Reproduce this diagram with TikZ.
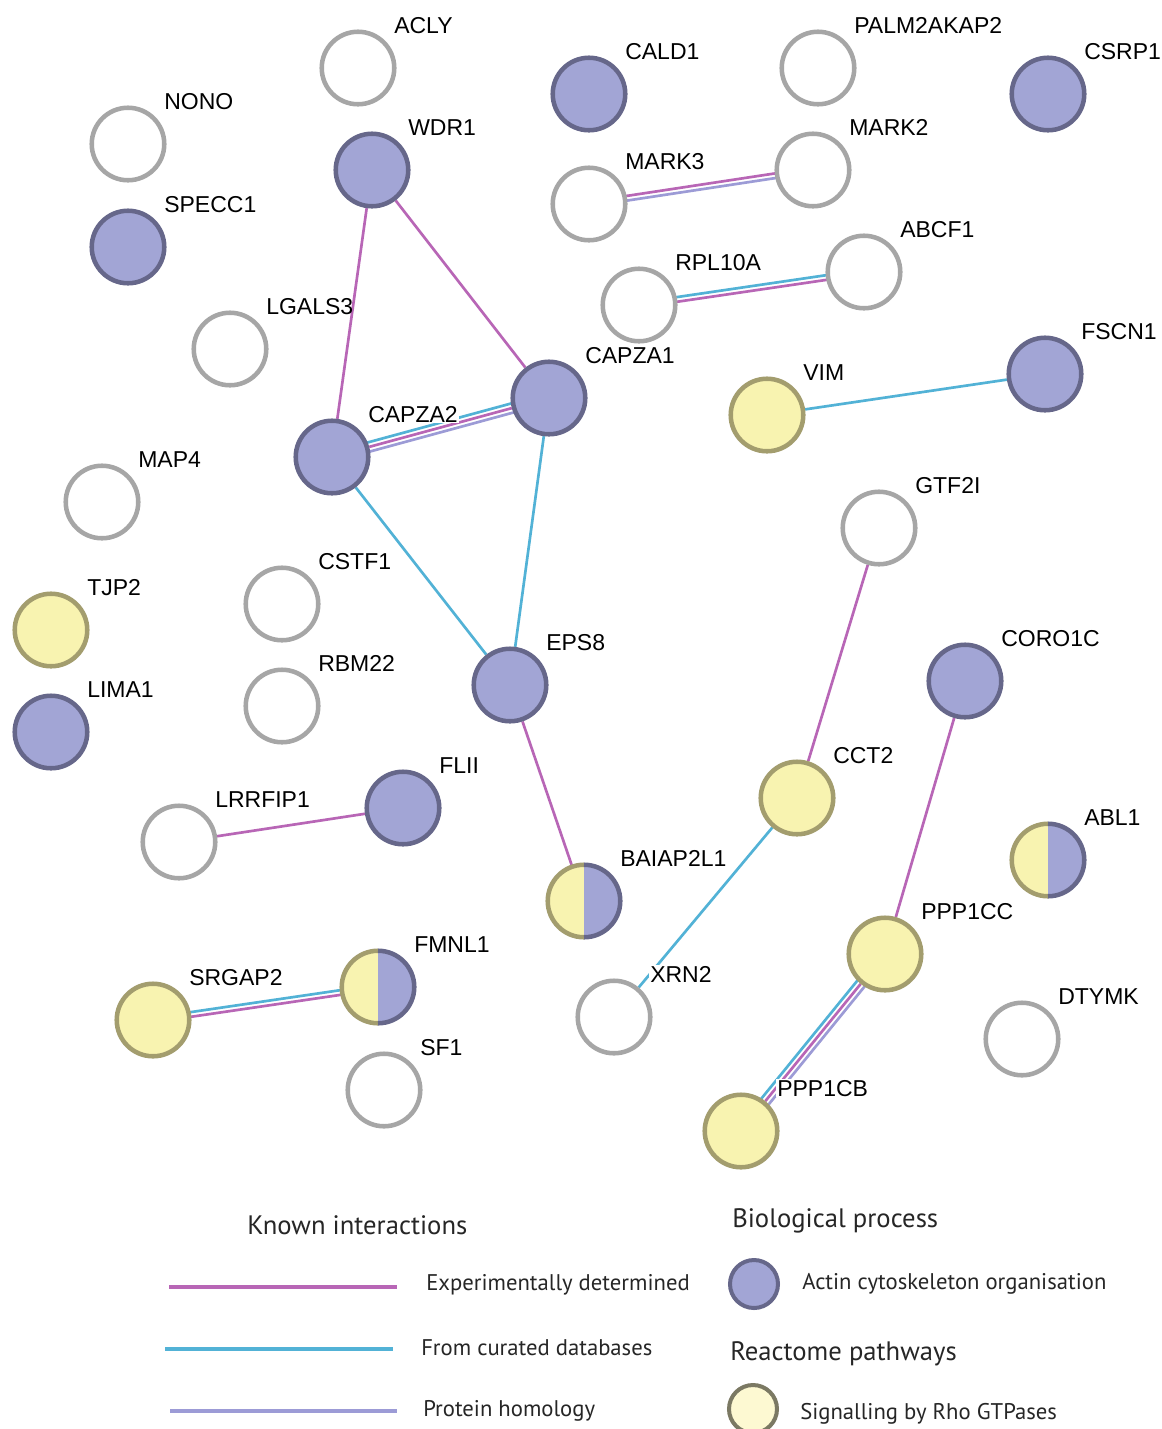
\documentclass[tikz,border=0pt]{standalone}
\usepackage{fontspec}
\usetikzlibrary{calc,backgrounds}
\newfontfamily\labfont{Liberation Sans}
\newfontfamily\legfont{PT Sans}

% interaction colours
\definecolor{expc}{HTML}{B866B6}
\definecolor{dbc}{HTML}{52B2D6}
\definecolor{homc}{HTML}{9C9BD6}
% node colours
\definecolor{bfill}{HTML}{A2A5D5}
\definecolor{bline}{HTML}{66678A}
\definecolor{yfill}{HTML}{F8F3B0}
\definecolor{yline}{HTML}{A39D6E}
\definecolor{wline}{HTML}{A6A6A6}
\definecolor{lyfill}{HTML}{FDF9D2}
\definecolor{lyline}{HTML}{7B7963}

% two parallel strands offset sideways from the centre line
\newcommand\twin[4]{\draw[#1] ($(#2)!#4!90:(#3)$) -- ($(#3)!#4!-90:(#2)$);}

\tikzset{
  gene/.style={circle, minimum size=54.4pt, inner sep=0pt, line width=3.4pt},
  gene-w/.style={gene, draw=wline, fill=white},
  gene-b/.style={gene, draw=bline, fill=bfill},
  gene-y/.style={gene, draw=yline, fill=yfill},
  gene-h/.style={gene, draw=none, outer sep=0pt,
    path picture={
      \fill[yfill] (path picture bounding box.south west) rectangle (path picture bounding box.north);
      \fill[bfill] (path picture bounding box.south) rectangle (path picture bounding box.north east);
    }},
  glabel/.style={anchor=base west, inner sep=0pt, font=\labfont\fontsize{17.25pt}{20pt}\selectfont},
  clearlabel/.style={fill=white, inner sep=0.6pt},
  link/.style={line width=2pt},
  exp/.style={link, expc},
  db/.style={link, dbc},
  hom/.style={link, homc},
  keyline/.style={line width=2.4pt},
  keyhead/.style={anchor=base west, inner sep=0pt, font=\legfont\fontsize{20pt}{24pt}\selectfont, text=black!85},
  keytext/.style={anchor=base west, inner sep=0pt, font=\legfont\fontsize{17pt}{20pt}\selectfont, text=black!85},
  keydot/.style={circle, minimum size=36pt, inner sep=0pt, line width=3pt},
}

\begin{document}
\begin{tikzpicture}[x=0.75pt, y=-0.75pt]
\useasboundingbox (0,0) rectangle (1162,1429);

% proteins
\foreach \n/\x/\y/\t in {
  ACLY/358/68/w, NONO/128/144/w, WDR1/372/170/b, SPECC1/128/247/b,
  CALD1/589/94/b, PALM2AKAP2/818/68/w, CSRP1/1048/94/b, MARK2/813/170/w,
  MARK3/589/204/w, ABCF1/864/272/w, RPL10A/639/305/w, LGALS3/230/349/w,
  CAPZA1/549/398/b, FSCN1/1045/374/b, VIM/767/415/y, CAPZA2/332/457/b,
  MAP4/102/502/w, GTF2I/879/528/w, CSTF1/282/604/w, TJP2/51/630/y,
  EPS8/510/685/b, CORO1C/965/681/b, RBM22/282/706/w, LIMA1/51/732/b,
  FLII/403/808/b, CCT2/797/798/y, LRRFIP1/179/842/w, PPP1CC/885/954/y,
  SRGAP2/153/1020/y, XRN2/614/1017/w, DTYMK/1022/1039/w, SF1/384/1090/w,
  PPP1CB/741/1131/y, ABL1/1048/860/h, BAIAP2L1/584/901/h, FMNL1/378/987/h}
{
  \node[gene-\t] (\n) at (\x,\y) {};
}

% gene names, up and to the right of each protein
\foreach \n in {
  ACLY, NONO, WDR1, SPECC1, CALD1, PALM2AKAP2, CSRP1, MARK2, MARK3, ABCF1,
  RPL10A, LGALS3, CAPZA1, FSCN1, VIM, MAP4, GTF2I, CSTF1, TJP2, EPS8,
  CORO1C, RBM22, LIMA1, FLII, CCT2, LRRFIP1, PPP1CC, SRGAP2, DTYMK, SF1,
  ABL1, BAIAP2L1, FMNL1}
{
  \node[glabel] (\n-t) at ([shift={(27pt,26.25pt)}]\n.center) {\n};
}
% names lying across a connector keep the connector clear of the letters
\foreach \n in {CAPZA2, XRN2, PPP1CB}
{
  \node[glabel, clearlabel] (\n-t) at ([shift={(26.4pt,26.25pt)}]\n.center) {\n};
}

% outlines of the two-category proteins
\foreach \n in {ABL1, BAIAP2L1, FMNL1} {
  \draw[yline, line width=3.4pt] (\n.north) arc[start angle=90, end angle=270, radius=27.2pt];
  \draw[bline, line width=3.4pt] (\n.south) arc[start angle=-90, end angle=90, radius=27.2pt];
}

% interactions, beneath the proteins
\begin{scope}[on background layer]
  \fill[white] (0,0) rectangle (1162,1429);
  \draw[exp] (WDR1) -- (CAPZA2);
  \draw[exp] (WDR1) -- (CAPZA1);
  \twin{db}{CAPZA2}{CAPZA1}{3.5pt}
  \draw[exp] (CAPZA2) -- (CAPZA1);
  \twin{hom}{CAPZA2}{CAPZA1}{-3.5pt}
  \draw[db] (CAPZA2) -- (EPS8);
  \draw[db] (CAPZA1) -- (EPS8);
  \draw[exp] (EPS8) -- (BAIAP2L1);
  \twin{exp}{MARK3}{MARK2}{1.75pt}
  \twin{hom}{MARK3}{MARK2}{-1.75pt}
  \twin{db}{RPL10A}{ABCF1}{1.75pt}
  \twin{exp}{RPL10A}{ABCF1}{-1.75pt}
  \draw[db] (VIM) -- (FSCN1);
  \draw[exp] (GTF2I) -- (CCT2);
  \draw[db] (CCT2) -- (XRN2);
  \draw[exp] (CORO1C) -- (PPP1CC);
  \twin{db}{PPP1CB}{PPP1CC}{3.5pt}
  \draw[exp] (PPP1CB) -- (PPP1CC);
  \twin{hom}{PPP1CB}{PPP1CC}{-3.5pt}
  \draw[exp] (LRRFIP1) -- (FLII);
  \twin{db}{SRGAP2}{FMNL1}{1.75pt}
  \twin{exp}{SRGAP2}{FMNL1}{-1.75pt}
\end{scope}

% key: interaction types
\node[keyhead] (kih) at (247,1234) {Known interactions};
\coordinate (ka1) at (169,1287); \coordinate (ka2) at (397,1287);
\coordinate (kb1) at (165,1349); \coordinate (kb2) at (393,1349);
\coordinate (kc1) at (170,1411); \coordinate (kc2) at (397,1411);
\draw[keyline, expc] (ka1) -- (ka2);
\draw[keyline, dbc] (kb1) -- (kb2);
\draw[keyline, homc] (kc1) -- (kc2);
\node[keytext] (kat) at (426,1290) {Experimentally determined};
\node[keytext] (kbt) at (421,1355) {From curated databases};
\node[keytext] (kct) at (423,1416) {Protein homology};

% key: node categories
\node[keyhead] (kbp) at (732,1227) {Biological process};
\node[keydot, draw=bline, fill=bfill] (kbd) at (754,1284) {};
\node[keytext] (kbdt) at (802,1289) {Actin cytoskeleton organisation};
\node[keyhead] (krp) at (730,1360) {Reactome pathways};
\node[keydot, draw=lyline, fill=lyfill] (kyd) at (753,1409) {};
\node[keytext] (kydt) at (800,1419) {Signalling by Rho GTPases};
\end{tikzpicture}
\end{document}
